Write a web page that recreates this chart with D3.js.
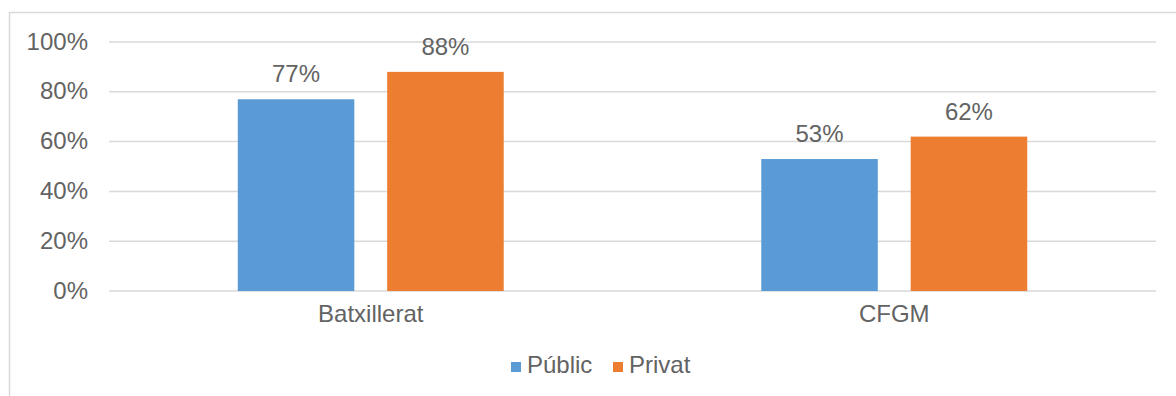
<!DOCTYPE html>
<html>
<head>
<meta charset="utf-8">
<script src="https://cdn.jsdelivr.net/npm/d3@7"></script>
<style>
    body { margin: 0; background: #fff; }
    text { font-family: "Liberation Sans", Arial, sans-serif; fill: #636363; }
</style>
</head>
<body>
<div id="chart"></div>
<script>
// chart data
let categories = ["Batxillerat", "CFGM"];
let series = ["Públic", "Privat"];
let publicValues = [77, 53];
let privatValues = [88, 62];
let yTicks = [0, 20, 40, 60, 80, 100];
let colors = ["#5B9BD5", "#ED7D31"];

let width = 1176, height = 396;

let svg = d3.select("#chart").append("svg")
    .attr("width", width)
    .attr("height", height);

// chart frame (only top and left edges visible in the picture)
svg.append("rect")
    .attr("x", 9.5)
    .attr("y", 12.5)
    .attr("width", 1180)
    .attr("height", 400)
    .attr("fill", "none")
    .attr("stroke", "#d9d9d9")
    .attr("stroke-width", 1.5);

let y = d3.scaleLinear()
    .domain([0, 100])
    .range([291, 42]);

let x0 = d3.scaleBand()
    .domain(categories)
    .range([109, 1156])
    .paddingInner(0.492)
    .paddingOuter(0.246);

let x1 = d3.scaleBand()
    .domain(series)
    .range([0, x0.bandwidth()])
    .paddingInner(0.22);

// gridlines
svg.append("g")
    .selectAll("line")
    .data(yTicks)
    .enter().append("line")
    .attr("x1", 109)
    .attr("x2", 1156)
    .attr("y1", d => y(d))
    .attr("y2", d => y(d))
    .attr("stroke", "#d9d9d9")
    .attr("stroke-width", 1.5);

// y labels
svg.append("g")
    .selectAll("text")
    .data(yTicks)
    .enter().append("text")
    .attr("x", 88)
    .attr("y", d => y(d) + 7.5)
    .attr("text-anchor", "end")
    .style("font-size", "24px")
    .text(d => d + "%");

let rows = categories.map((c, i) => ({
    category: c,
    values: [publicValues[i], privatValues[i]]
}));

let groups = svg.append("g")
    .selectAll("g")
    .data(rows)
    .enter().append("g")
    .attr("transform", d => `translate(${x0(d.category)},0)`);

groups.selectAll("rect")
    .data(d => d.values.map((v, j) => ({key: series[j], value: v, j: j})))
    .enter().append("rect")
    .attr("x", d => x1(d.key))
    .attr("y", d => y(d.value))
    .attr("width", x1.bandwidth())
    .attr("height", d => y(0) - y(d.value))
    .attr("fill", d => colors[d.j]);

groups.selectAll(".val")
    .data(d => d.values.map((v, j) => ({key: series[j], value: v})))
    .enter().append("text")
    .attr("class", "val")
    .attr("x", d => x1(d.key) + x1.bandwidth() / 2)
    .attr("y", d => y(d.value) - 17)
    .attr("text-anchor", "middle")
    .style("font-size", "24px")
    .text(d => d.value + "%");

// category labels
svg.append("g")
    .selectAll("text")
    .data(categories)
    .enter().append("text")
    .attr("x", d => x0(d) + x0.bandwidth() / 2)
    .attr("y", 322)
    .attr("text-anchor", "middle")
    .style("font-size", "24px")
    .text(d => d);

// legend
let legend = svg.append("g");
let legendX = [511, 613];
series.forEach((s, i) => {
    legend.append("rect")
        .attr("x", legendX[i])
        .attr("y", 362)
        .attr("width", 10)
        .attr("height", 10)
        .attr("fill", colors[i]);
    legend.append("text")
        .attr("x", legendX[i] + 16)
        .attr("y", 373)
        .style("font-size", "24px")
        .text(s);
});
</script>
</body>
</html>
